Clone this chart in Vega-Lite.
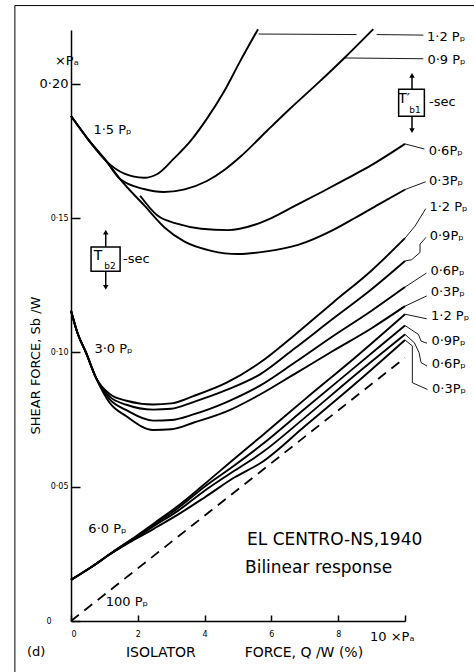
{
  "$schema": "https://vega.github.io/schema/vega-lite/v6.json",
  "width": 334,
  "height": 591,
  "autosize": "none",
  "padding": {"left": 71, "top": 30, "right": 69, "bottom": 51},
  "background": "white",
  "config": {
    "view": {"stroke": null},
    "font": "DejaVu Sans",
    "axis": {"grid": false, "domainColor": "black", "tickColor": "black", "labelColor": "black", "titleColor": "black", "domainWidth": 1.5, "tickWidth": 1.5, "titleFontWeight": "normal", "labelFont": "DejaVu Sans", "titleFont": "DejaVu Sans"}
  },
  "datasets": {
    "curves": [
      {"s":"A1","x":0,"y":0.188},{"s":"A1","x":0.5,"y":0.1795},{"s":"A1","x":1.07,"y":0.171},{"s":"A1","x":1.6,"y":0.1665},{"s":"A1","x":2.18,"y":0.165},{"s":"A1","x":2.6,"y":0.1665},{"s":"A1","x":3.07,"y":0.172},{"s":"A1","x":3.6,"y":0.179},{"s":"A1","x":4.07,"y":0.187},{"s":"A1","x":4.6,"y":0.1975},{"s":"A1","x":5.07,"y":0.2085},{"s":"A1","x":5.6,"y":0.2203},
      {"s":"A2","x":0,"y":0.188},{"s":"A2","x":0.5,"y":0.1795},{"s":"A2","x":1.07,"y":0.171},{"s":"A2","x":1.47,"y":0.1645},{"s":"A2","x":2.18,"y":0.1608},{"s":"A2","x":2.78,"y":0.1597},{"s":"A2","x":3.4,"y":0.1607},{"s":"A2","x":4.07,"y":0.1638},{"s":"A2","x":4.6,"y":0.168},{"s":"A2","x":5.07,"y":0.1728},{"s":"A2","x":5.87,"y":0.1825},{"s":"A2","x":6.54,"y":0.1905},{"s":"A2","x":7.4,"y":0.2003},{"s":"A2","x":8.17,"y":0.2094},{"s":"A2","x":9.05,"y":0.2203},
      {"s":"A3","x":2.07,"y":0.1583},{"s":"A3","x":2.58,"y":0.151},{"s":"A3","x":3.2,"y":0.1478},{"s":"A3","x":3.9,"y":0.146},{"s":"A3","x":4.7,"y":0.1455},{"s":"A3","x":5.5,"y":0.1475},{"s":"A3","x":6.0,"y":0.15},{"s":"A3","x":6.7,"y":0.1545},{"s":"A3","x":7.48,"y":0.1595},{"s":"A3","x":8.2,"y":0.1643},{"s":"A3","x":8.97,"y":0.1695},{"s":"A3","x":10,"y":0.1776},
      {"s":"A4","x":0,"y":0.188},{"s":"A4","x":0.5,"y":0.1795},{"s":"A4","x":1.07,"y":0.171},{"s":"A4","x":1.47,"y":0.1645},{"s":"A4","x":2.2,"y":0.1546},{"s":"A4","x":2.8,"y":0.1465},{"s":"A4","x":3.4,"y":0.1412},{"s":"A4","x":4.2,"y":0.1378},{"s":"A4","x":5.0,"y":0.1366},{"s":"A4","x":5.8,"y":0.1375},{"s":"A4","x":6.8,"y":0.14},{"s":"A4","x":7.84,"y":0.1455},{"s":"A4","x":8.5,"y":0.15},{"s":"A4","x":9.2,"y":0.155},{"s":"A4","x":10,"y":0.1606},
      {"s":"B1","x":0,"y":0.1155},{"s":"B1","x":0.2,"y":0.107},{"s":"B1","x":0.45,"y":0.0999},{"s":"B1","x":0.75,"y":0.0905},{"s":"B1","x":1.16,"y":0.0845},{"s":"B1","x":1.66,"y":0.082},{"s":"B1","x":2.46,"y":0.0806},{"s":"B1","x":3.0,"y":0.081},{"s":"B1","x":3.66,"y":0.0837},{"s":"B1","x":4.66,"y":0.0887},{"s":"B1","x":5.66,"y":0.0962},{"s":"B1","x":6.7,"y":0.1065},{"s":"B1","x":7.84,"y":0.1185},{"s":"B1","x":9.0,"y":0.1305},{"s":"B1","x":10,"y":0.1425},
      {"s":"B2","x":0,"y":0.1155},{"s":"B2","x":0.2,"y":0.107},{"s":"B2","x":0.45,"y":0.0999},{"s":"B2","x":0.75,"y":0.0905},{"s":"B2","x":1.16,"y":0.0835},{"s":"B2","x":1.66,"y":0.0805},{"s":"B2","x":2.46,"y":0.0787},{"s":"B2","x":3.0,"y":0.079},{"s":"B2","x":3.66,"y":0.0815},{"s":"B2","x":4.66,"y":0.086},{"s":"B2","x":5.66,"y":0.0918},{"s":"B2","x":6.7,"y":0.1015},{"s":"B2","x":7.84,"y":0.1125},{"s":"B2","x":9.0,"y":0.1235},{"s":"B2","x":10,"y":0.134},
      {"s":"B3","x":0,"y":0.1155},{"s":"B3","x":0.2,"y":0.107},{"s":"B3","x":0.45,"y":0.0999},{"s":"B3","x":0.75,"y":0.0905},{"s":"B3","x":1.16,"y":0.0825},{"s":"B3","x":1.66,"y":0.0785},{"s":"B3","x":2.46,"y":0.0746},{"s":"B3","x":3.0,"y":0.0748},{"s":"B3","x":3.66,"y":0.0769},{"s":"B3","x":4.66,"y":0.0815},{"s":"B3","x":5.66,"y":0.0876},{"s":"B3","x":6.7,"y":0.0962},{"s":"B3","x":7.84,"y":0.106},{"s":"B3","x":9.0,"y":0.1155},{"s":"B3","x":10,"y":0.1243},
      {"s":"B4","x":0,"y":0.1155},{"s":"B4","x":0.2,"y":0.107},{"s":"B4","x":0.45,"y":0.0999},{"s":"B4","x":0.75,"y":0.0905},{"s":"B4","x":1.16,"y":0.0812},{"s":"B4","x":1.66,"y":0.0762},{"s":"B4","x":2.46,"y":0.0711},{"s":"B4","x":3.0,"y":0.0714},{"s":"B4","x":3.66,"y":0.0738},{"s":"B4","x":4.66,"y":0.078},{"s":"B4","x":5.66,"y":0.0843},{"s":"B4","x":6.7,"y":0.092},{"s":"B4","x":7.84,"y":0.1005},{"s":"B4","x":9.0,"y":0.109},{"s":"B4","x":10,"y":0.1172},
      {"s":"C1","x":0,"y":0.0153},{"s":"C1","x":0.6,"y":0.02},{"s":"C1","x":1.23,"y":0.0255},{"s":"C1","x":2.0,"y":0.032},{"s":"C1","x":2.5,"y":0.0365},{"s":"C1","x":3.2,"y":0.0428},{"s":"C1","x":4.0,"y":0.051},{"s":"C1","x":4.9,"y":0.0605},{"s":"C1","x":5.7,"y":0.0688},{"s":"C1","x":7,"y":0.0825},{"s":"C1","x":8.5,"y":0.098},{"s":"C1","x":10,"y":0.1142},
      {"s":"C2","x":0,"y":0.0153},{"s":"C2","x":0.6,"y":0.02},{"s":"C2","x":1.23,"y":0.0255},{"s":"C2","x":2.0,"y":0.0318},{"s":"C2","x":2.5,"y":0.036},{"s":"C2","x":3.2,"y":0.042},{"s":"C2","x":4.0,"y":0.05},{"s":"C2","x":4.9,"y":0.058},{"s":"C2","x":5.7,"y":0.0655},{"s":"C2","x":7,"y":0.079},{"s":"C2","x":8.5,"y":0.0945},{"s":"C2","x":10,"y":0.11},
      {"s":"C3","x":0,"y":0.0153},{"s":"C3","x":0.6,"y":0.02},{"s":"C3","x":1.23,"y":0.0254},{"s":"C3","x":2.0,"y":0.0315},{"s":"C3","x":2.5,"y":0.0355},{"s":"C3","x":3.2,"y":0.041},{"s":"C3","x":4.0,"y":0.0485},{"s":"C3","x":4.9,"y":0.056},{"s":"C3","x":5.7,"y":0.0625},{"s":"C3","x":7,"y":0.0757},{"s":"C3","x":8.5,"y":0.0915},{"s":"C3","x":10,"y":0.1067},
      {"s":"C4","x":0,"y":0.0153},{"s":"C4","x":0.6,"y":0.02},{"s":"C4","x":1.23,"y":0.0253},{"s":"C4","x":2.0,"y":0.031},{"s":"C4","x":2.5,"y":0.0345},{"s":"C4","x":3.2,"y":0.0396},{"s":"C4","x":4.0,"y":0.046},{"s":"C4","x":4.9,"y":0.0535},{"s":"C4","x":5.7,"y":0.059},{"s":"C4","x":7,"y":0.0725},{"s":"C4","x":8.5,"y":0.0882},{"s":"C4","x":10,"y":0.1046}
    ],
    "dash": [{"x":0,"y":0},{"x":10,"y":0.098}],
    "leaders": [
      {"s":"LA1a","i":0,"x":5.62,"y":0.2185},{"s":"LA1a","i":1,"x":8.55,"y":0.2183},
      {"s":"LA1b","i":0,"x":9.15,"y":0.2183},{"s":"LA1b","i":1,"x":10.55,"y":0.2181},
      {"s":"LA2","i":0,"x":8.17,"y":0.2096},{"s":"LA2","i":1,"x":10.55,"y":0.2093},
      {"s":"LA3","i":0,"x":10.0,"y":0.1776},{"s":"LA3","i":1,"x":10.58,"y":0.1757},
      {"s":"LA4","i":0,"x":10.0,"y":0.1606},{"s":"LA4","i":1,"x":10.62,"y":0.1635},
      {"s":"LB1","i":0,"x":10.0,"y":0.1425},{"s":"LB1","i":1,"x":10.3,"y":0.147},{"s":"LB1","i":2,"x":10.62,"y":0.1535},
      {"s":"LB2","i":0,"x":10.0,"y":0.134},{"s":"LB2","i":1,"x":10.2,"y":0.1345},{"s":"LB2","i":2,"x":10.45,"y":0.1372},{"s":"LB2","i":3,"x":10.45,"y":0.1403},{"s":"LB2","i":4,"x":10.63,"y":0.1428},
      {"s":"LB3","i":0,"x":10.0,"y":0.1243},{"s":"LB3","i":1,"x":10.64,"y":0.1295},
      {"s":"LB4","i":0,"x":10.0,"y":0.1172},{"s":"LB4","i":1,"x":10.65,"y":0.121},
      {"s":"LC1","i":0,"x":10.0,"y":0.1142},{"s":"LC1","i":1,"x":10.65,"y":0.1125},
      {"s":"LC2","i":0,"x":10.0,"y":0.11},{"s":"LC2","i":1,"x":10.4,"y":0.1067},{"s":"LC2","i":2,"x":10.48,"y":0.1042},{"s":"LC2","i":3,"x":10.66,"y":0.1034},
      {"s":"LC3","i":0,"x":10.0,"y":0.1067},{"s":"LC3","i":1,"x":10.28,"y":0.1036},{"s":"LC3","i":2,"x":10.42,"y":0.0999},{"s":"LC3","i":3,"x":10.48,"y":0.0962},{"s":"LC3","i":4,"x":10.66,"y":0.0949},
      {"s":"LC4","i":0,"x":10.0,"y":0.1046},{"s":"LC4","i":1,"x":10.22,"y":0.1024},{"s":"LC4","i":2,"x":10.22,"y":0.0887},{"s":"LC4","i":3,"x":10.67,"y":0.0862}
    ],
    "frame": [
      {"x":-1.68,"x2":12.2,"y":0.2291,"y2":0.2291},
      {"x":-1.68,"x2":-1.68,"y":-0.02,"y2":0.2291}
    ],
    "boxes": [
      {"x":0.6,"x2":1.47,"y":0.1302,"y2":0.1392},
      {"x":9.81,"x2":10.58,"y":0.1879,"y2":0.1979}
    ],
    "shafts": [
      {"x":1.04,"y":0.1392,"y2":0.1445},{"x":1.04,"y":0.1302,"y2":0.1245},
      {"x":10.21,"y":0.1979,"y2":0.2028},{"x":10.21,"y":0.1879,"y2":0.1828}
    ],
    "heads": [
      {"x":1.04,"y":0.1448,"d":"up"},{"x":1.04,"y":0.1242,"d":"down"},
      {"x":10.21,"y":0.2031,"d":"up"},{"x":10.21,"y":0.1825,"d":"down"}
    ],
    "labels": [
      {"t":"1·2 Pₚ","x":10.66,"y":0.2175},
      {"t":"0·9 Pₚ","x":10.67,"y":0.209},
      {"t":"0·6Pₚ","x":10.71,"y":0.175},
      {"t":"0·3Pₚ","x":10.72,"y":0.1638},
      {"t":"1·2 Pₚ","x":10.73,"y":0.1541},
      {"t":"0·9Pₚ","x":10.74,"y":0.1433},
      {"t":"0·6Pₚ","x":10.76,"y":0.1302},
      {"t":"0·3Pₚ","x":10.77,"y":0.1224},
      {"t":"1·2 Pₚ","x":10.78,"y":0.1134},
      {"t":"0·9Pₚ","x":10.79,"y":0.1041},
      {"t":"0·6Pₚ","x":10.8,"y":0.0955},
      {"t":"0·3Pₚ","x":10.81,"y":0.0862},
      {"t":"1·5 Pₚ","x":0.67,"y":0.1829},
      {"t":"3·0 Pₚ","x":0.7,"y":0.1011},
      {"t":"6·0 Pₚ","x":0.52,"y":0.0343},
      {"t":"100 Pₚ","x":1.04,"y":0.0071},
      {"t":"-sec","x":1.56,"y":0.1347},
      {"t":"-sec","x":10.72,"y":0.1933},
      {"t":"×Pₐ","x":-0.48,"y":0.2086},
      {"t":"(d)","x":-1.32,"y":-0.0116}
    ],
    "big": [
      {"t":"EL CENTRO-NS,1940","x":5.27,"y":0.0302},
      {"t":"Bilinear response","x":5.21,"y":0.0198}
    ],
    "tletter": [
      {"t":"T","x":0.81,"y":0.1358},
      {"t":"T′","x":9.97,"y":0.1942}
    ],
    "tsub": [
      {"t":"b2","x":1.17,"y":0.1323},
      {"t":"b1","x":10.3,"y":0.1902}
    ]
  },
  "encoding": {
    "x": {
      "field": "x", "type": "quantitative",
      "scale": {"domain": [0, 10], "nice": false, "zero": false},
      "axis": {
        "values": [0, 2, 4, 6, 8, 10],
        "tickSize": -6,
        "labelPadding": 15,
        "labelExpr": "datum.value == 10 ? '10 ×Pₐ' : datum.label",
        "labelFontSize": {"condition": {"test": "datum.value == 10", "value": 13}, "value": 8},
        "labelOffset": {"condition": {"test": "datum.value == 10", "value": 9}, "value": 0},
        "title": "ISOLATOR\u00a0\u00a0\u00a0\u00a0\u00a0\u00a0\u00a0\u00a0\u00a0\u00a0\u00a0FORCE,\u00a0Q\u00a0/W\u00a0(%)",
        "titleFontSize": 14,
        "titleX": 173,
        "titleY": 31,
        "titleAlign": "center",
        "titleBaseline": "middle"
      }
    },
    "y": {
      "field": "y", "type": "quantitative",
      "scale": {"domain": [0, 0.22], "nice": false, "zero": false},
      "axis": {
        "values": [0, 0.05, 0.1, 0.15, 0.2],
        "tickSize": -9,
        "labelPadding": {"condition": {"test": "datum.value == 0", "value": 29}, "value": 12},
        "labelExpr": "datum.value == 0 ? '0' : replace(format(datum.value, '.2f'), '.', '·')",
        "labelFontSize": {"condition": {"test": "datum.value == 0.2", "value": 13}, "value": 8},
        "title": "SHEAR FORCE, Sb /W",
        "titleFontSize": 13,
        "titleAngle": -90,
        "titleX": -36,
        "titleY": 335,
        "titleAlign": "center",
        "titleBaseline": "middle"
      }
    }
  },
  "layer": [
    {"data": {"name": "curves"}, "mark": {"type": "line", "color": "black", "strokeWidth": 1.9, "interpolate": "monotone"}, "encoding": {"detail": {"field": "s"}}},
    {"data": {"name": "dash"}, "mark": {"type": "line", "color": "black", "strokeWidth": 1.8, "strokeDash": [10, 7]}, "encoding": {}},
    {"data": {"name": "leaders"}, "mark": {"type": "line", "color": "black", "strokeWidth": 0.9}, "encoding": {"detail": {"field": "s"}, "order": {"field": "i"}}},
    {"data": {"name": "frame"}, "mark": {"type": "rule", "color": "black", "strokeWidth": 1}, "encoding": {"x2": {"field": "x2"}, "y2": {"field": "y2"}}},
    {"data": {"name": "boxes"}, "mark": {"type": "rect", "fill": "white", "stroke": "black", "strokeWidth": 1.5}, "encoding": {"x2": {"field": "x2"}, "y2": {"field": "y2"}}},
    {"data": {"name": "shafts"}, "mark": {"type": "rule", "color": "black", "strokeWidth": 1.5}, "encoding": {"y2": {"field": "y2"}}},
    {"data": {"name": "heads"}, "mark": {"type": "point", "filled": true, "color": "black", "size": 30, "opacity": 1}, "encoding": {"shape": {"field": "d", "type": "nominal", "scale": {"domain": ["up", "down"], "range": ["triangle-up", "triangle-down"]}, "legend": null}}},
    {"data": {"name": "labels"}, "mark": {"type": "text", "align": "left", "baseline": "middle", "fontSize": 13, "color": "black"}, "encoding": {"text": {"field": "t"}}},
    {"data": {"name": "big"}, "mark": {"type": "text", "align": "left", "baseline": "middle", "fontSize": 17, "color": "black"}, "encoding": {"text": {"field": "t"}}},
    {"data": {"name": "tletter"}, "mark": {"type": "text", "align": "center", "baseline": "middle", "fontSize": 14, "color": "black"}, "encoding": {"text": {"field": "t"}}},
    {"data": {"name": "tsub"}, "mark": {"type": "text", "align": "center", "baseline": "middle", "fontSize": 9, "color": "black"}, "encoding": {"text": {"field": "t"}}}
  ]
}
